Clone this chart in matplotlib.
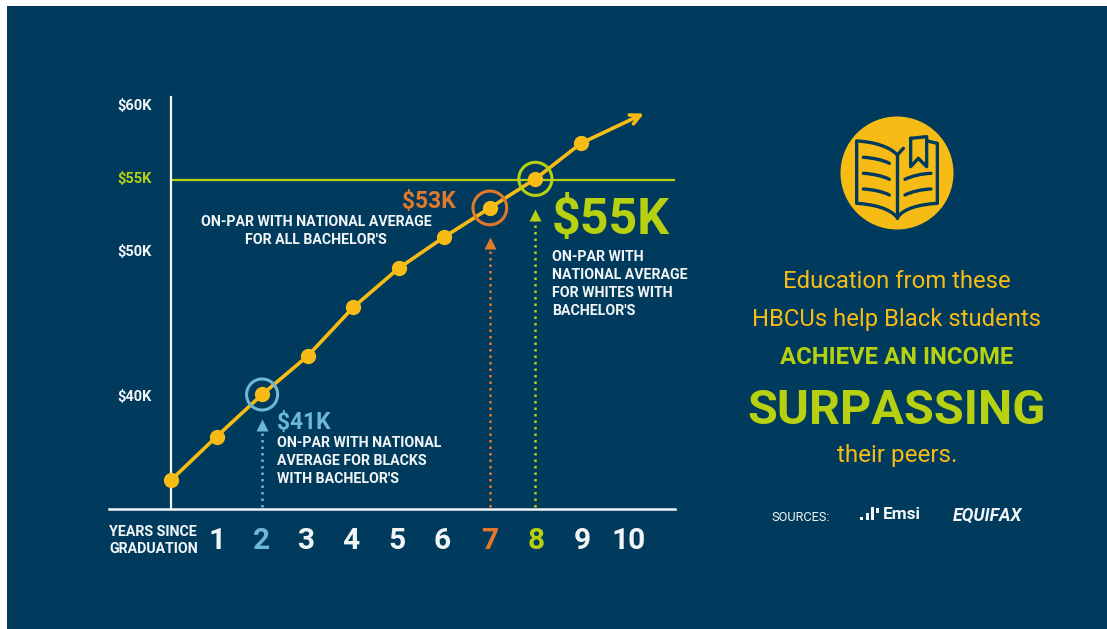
import matplotlib
matplotlib.use('Agg')
import matplotlib.pyplot as plt
from matplotlib.patches import Circle, PathPatch, Rectangle
from matplotlib.path import Path
from matplotlib.transforms import ScaledTranslation

# ----------------------------------------------------------------
# Data
# ----------------------------------------------------------------
years = [0, 1, 2, 3, 4, 5, 6, 7, 8, 9]
income = [34.3, 37.3, 40.2, 42.85, 46.2, 48.9, 51.05, 53.05, 55.05, 57.5]
arrow_end = (10.38, 59.55)

year_ticks = [1, 2, 3, 4, 5, 6, 7, 8, 9, 10]
y_ticks = [40, 50, 55, 60]
y_labels = ['$40K', '$50K', '$55K', '$60K']

ringed_years = [2, 7, 8]
ringed_income = [40.2, 53.05, 55.05]
arrow_tips = [38.4, 50.9, 52.85]

NAVY = '#003A5D'
YELLOW = '#F6BC15'
BLUE = '#6DB8D4'
ORANGE = '#E2792A'
GREEN = '#B7D010'
WHITE = '#F2F5F6'
FONT = 'Roboto'

W, H = 1107, 629
fig = plt.figure(figsize=(W / 100, H / 100), dpi=100, facecolor='white')

# overlay in pixels for the panel, annotation text and icons
bg = fig.add_axes([0, 0, 1, 1], zorder=0)
bg.set_xlim(0, W)
bg.set_ylim(H, 0)
bg.axis('off')
bg.add_patch(Rectangle((7, 6), W - 7, H - 6, color=NAVY, lw=0))


def label(x, y, s, size, color=WHITE, weight='bold', ha='left', **kw):
    bg.text(x, y + 1 + 0.14 * size, s, fontsize=size, color=color, fontweight=weight, ha=ha,
            va='center', family=FONT, **kw)


def nudge(t, dx, dy):
    t.set_transform(t.get_transform() + ScaledTranslation(dx / 100, dy / 100, fig.dpi_scale_trans))


# ----------------------------------------------------------------
# Chart
# ----------------------------------------------------------------
left, right, top, bottom = 109, 675, 97, 509
ax = fig.add_axes([left / W, 1 - bottom / H, (right - left) / W, (bottom - top) / H], zorder=1)
ax.patch.set_alpha(0)
ax.set_xlim((left - 171) / 45.55, (right - 171) / 45.55)
ax.set_ylim(60 - (bottom - 107) / 14.52, 60 - (top - 107) / 14.52)

for s in ['top', 'right']:
    ax.spines[s].set_visible(False)
ax.spines['left'].set_position(('data', 0))
ax.spines['left'].set_color(WHITE)
ax.spines['left'].set_linewidth(1.6)
ax.spines['bottom'].set_color(WHITE)
ax.spines['bottom'].set_linewidth(1.8)

ax.set_xticks(year_ticks)
ax.set_xticklabels(year_ticks, fontsize=21.5, fontweight='bold', family=FONT)
ax.set_yticks(y_ticks)
ax.set_yticklabels(y_labels, fontsize=10.5, fontweight='bold', family=FONT)
ax.tick_params(axis='both', length=0)
ax.tick_params(axis='x', pad=12.7, colors=WHITE)
ax.tick_params(axis='y', pad=14, colors=WHITE)
x_nudge = [1, -1, -2, -2, -2, -2, 0, 1, 1, 2]
for t, yr, dx in zip(ax.get_xticklabels(), year_ticks, x_nudge):
    t.set_color({2: BLUE, 7: ORANGE, 8: GREEN}.get(yr, WHITE))
    nudge(t, dx, 0)
for t, v in zip(ax.get_yticklabels(), y_ticks):
    t.set_color(GREEN if v == 55 else WHITE)
    nudge(t, 0, 2)

# $55K reference line
ax.plot([0, (674 - 171) / 45.55], [55, 55], color=GREEN, lw=1.6, zorder=2)

# dotted pointers
for yr, tip, col in zip(ringed_years, arrow_tips, [BLUE, ORANGE, GREEN]):
    ax.plot([yr, yr], [ax.get_ylim()[0] + 0.15, tip - 0.3], color=col, lw=1.8,
            ls=(0, (1, 1.6)), zorder=2)
    ax.plot([yr], [tip - 0.3], marker='^', ms=8, color=col, mec='none', zorder=2)

# income line
ax.plot(years, income, color=YELLOW, lw=2.6, marker='o', ms=11, mec='none', zorder=4)
ax.annotate('', xy=arrow_end, xytext=(years[-1], income[-1]),
            arrowprops=dict(arrowstyle='->,head_length=0.7,head_width=0.35',
                            color=YELLOW, lw=2.6, shrinkA=0, shrinkB=0), zorder=4)

# rings
ax.scatter(ringed_years, ringed_income, s=[500, 590, 570], facecolors='none',
           edgecolors=[BLUE, ORANGE, GREEN], linewidths=2.2, zorder=5)

# ----------------------------------------------------------------
# Annotation text
# ----------------------------------------------------------------
small = 10.2
label(109, 530, 'YEARS SINCE', small)
label(109, 547, 'GRADUATION', small)

label(402, 198.5, '$53K', 16.4, color=ORANGE)
label(316, 220, 'ON-PAR WITH NATIONAL AVERAGE', small, ha='center')
label(316, 238, "FOR ALL BACHELOR'S", small, ha='center')

label(277, 419.5, '$41K', 16.4, color=BLUE)
label(277, 441, 'ON-PAR WITH NATIONAL', small)
label(277, 459, 'AVERAGE FOR BLACKS', small)
label(277, 477, "WITH BACHELOR'S", small)

label(552, 214, '$55K', 36, color=GREEN)
label(552, 255, 'ON-PAR WITH', small)
label(552, 273, 'NATIONAL AVERAGE', small)
label(552, 291, 'FOR WHITES WITH', small)
label(552, 309, "BACHELOR'S", small)

# ----------------------------------------------------------------
# Right panel
# ----------------------------------------------------------------
cx = 897
label(cx, 278, 'Education from these', 17.2, color=YELLOW, weight='normal', ha='center')
label(cx, 316, 'HBCUs help Black students', 17.2, color=YELLOW, weight='normal', ha='center')
label(cx, 354, 'ACHIEVE AN INCOME', 17.2, color=GREEN, ha='center')
label(cx, 405, 'SURPASSING', 35, color=GREEN, ha='center')
label(cx, 452, 'their peers.', 17.5, color=YELLOW, weight='normal', ha='center')

label(771, 515, 'SOURCES:', 9.2, weight='normal')
label(883, 512, 'Emsi', 12.4)
label(953, 513.5, 'EQUIFAX', 12.7, style='italic')

# Emsi bars
for x0, y0, y1 in [(860, 517, 520), (866, 513, 520), (871, 507, 520), (876, 508, 513)]:
    bg.add_patch(Rectangle((x0, y0), 3, y1 - y0, color=WHITE, lw=0))

# book icon, zoom pixels mapped to picture pixels
bg.add_patch(Circle((897, 173), 56.5, color=YELLOW, lw=0))


def bx(x, y):
    return (820 + x / 3, 105 + y / 3)


def stroke(points, codes):
    p = Path([bx(*q) for q in points], codes)
    bg.add_patch(PathPatch(p, fc='none', ec=NAVY, lw=2.4, capstyle='round', joinstyle='round'))


C = Path.CURVE4
M = Path.MOVETO
L = Path.LINETO
stroke([(232, 150), (210, 125), (160, 110), (110, 108), (110, 295),
        (160, 298), (210, 310), (232, 338), (250, 310), (300, 298), (352, 295),
        (352, 115), (322, 108)],
       [M, C, C, C, L, C, C, C, C, C, C, L, L])
stroke([(232, 150), (232, 338)], [M, L])
stroke([(232, 150), (250, 130)], [M, L])
stroke([(272, 100), (272, 185), (295, 160), (320, 185), (320, 95), (272, 100)],
       [M, L, L, L, L, L])
for y0 in [157, 205, 252]:
    stroke([(130, y0), (155, y0 + 1), (190, y0 + 8), (208, y0 + 18)], [M, C, C, C])
for y0 in [205, 252]:
    stroke([(333, y0), (305, y0 + 1), (275, y0 + 8), (255, y0 + 18)], [M, C, C, C])

plt.savefig('out.png', dpi=100, facecolor='white')
plt.close()
